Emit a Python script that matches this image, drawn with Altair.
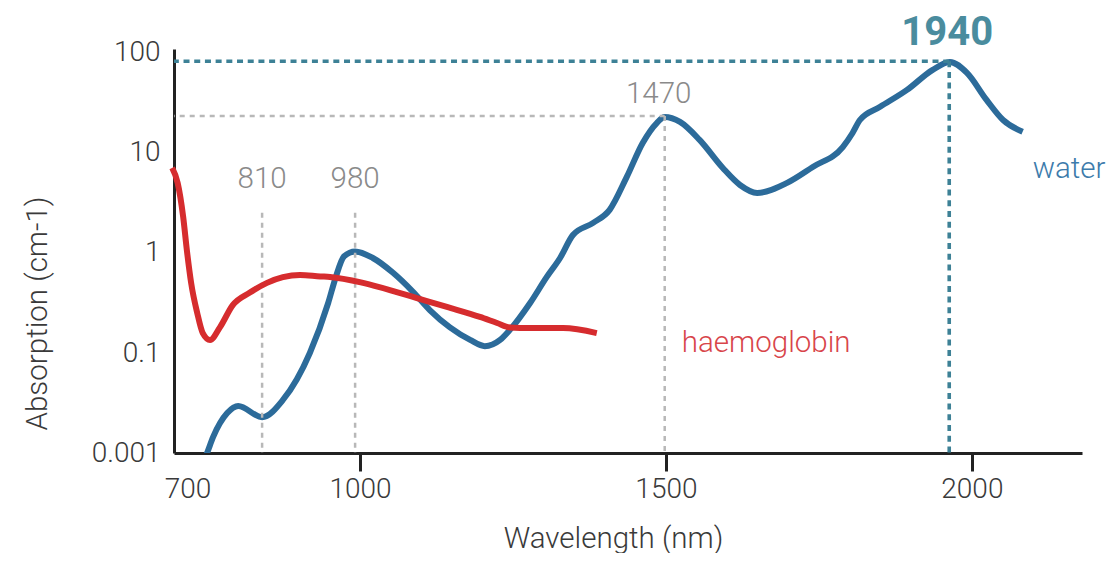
import altair as alt
import pandas as pd

# ---- data ----
water_nm = [738, 750, 760, 783, 801, 840, 874, 918, 948, 960, 974, 992, 1021, 1054, 1087,
            1114, 1147, 1180, 1204, 1229, 1245, 1278, 1305, 1327, 1348, 1381, 1408, 1436,
            1462, 1485, 1498, 1523, 1555, 1593, 1621, 1649, 1698, 1740, 1789, 1805, 1817,
            1850, 1894, 1936, 1964, 1992, 2024, 2051, 2083]
water_abs = [0.00046, 0.001, 0.0021, 0.0063, 0.0087, 0.0052, 0.0115, 0.1, 0.315, 0.56, 0.92,
             1.03, 0.885, 0.63, 0.405, 0.268, 0.18, 0.135, 0.117, 0.135, 0.17, 0.315, 0.57,
             0.885, 1.5, 1.98, 2.67, 5.69, 12.4, 19.6, 22.5, 20.1, 13.3, 6.98, 4.73, 3.94,
             4.96, 7.15, 11.3, 15.6, 21.0, 28.4, 41.9, 66.4, 79.6, 61.9, 33.3, 21.0, 16.0]

hb_nm = [693, 702, 711, 717, 724, 734, 743, 755, 771, 792, 820, 848, 874, 902, 935, 951,
         1005, 1060, 1093, 1142, 1196, 1224, 1245, 1278, 1332, 1387]
hb_abs = [7.0, 4.95, 2.27, 1.06, 0.50, 0.25, 0.158, 0.135, 0.18, 0.30, 0.40, 0.50, 0.57,
          0.60, 0.58, 0.573, 0.50, 0.405, 0.353, 0.288, 0.229, 0.199, 0.18, 0.177, 0.177,
          0.158]

ann_labels = ["810", "980", "1470", "1940"]
ann_nm = [840, 992, 1498, 1963]
ann_abs = [2.5, 2.5, 23, 81]

x_ticks = [700, 1000, 1500, 2000]
y_ticks = [0.001, 0.1, 1, 10, 100]

X_MIN, X_MAX = 696, 2180
Y_BOTTOM = 0.001

# ---- styles ----
FONT = "Roboto"
BLUE = "#2c6b9a"
RED = "#d62c2e"
TEAL = "#3d8196"
GREY_LINE = "#b8b8b8"
GREY_TEXT = "#8a8a8a"
AXIS = "#222222"
LABEL = "#3a3a3a"
TXT = 29.5

water_df = pd.DataFrame({"nm": water_nm, "abs": water_abs})
hb_df = pd.DataFrame({"nm": hb_nm, "abs": hb_abs})
ann_df = pd.DataFrame({"nm": ann_nm, "abs": ann_abs, "label": ann_labels})

x_scale = alt.Scale(domain=[X_MIN, X_MAX], nice=False, zero=False)
y_scale = alt.Scale(type="log", domain=[0.001, 0.1, 100, 108], range=[404, 304, 3, 0], nice=False)

x_axis = alt.Axis(
    values=x_ticks, format="d", grid=False,
    domainColor=AXIS, domainWidth=3,
    tickColor={"condition": {"test": "datum.value === 700", "value": "transparent"}, "value": AXIS},
    tickWidth=3, tickSize=18,
    labelFont=FONT, labelFontSize=28, labelFontWeight=300, labelColor=LABEL, labelPadding=4,
    labelOffset={"condition": {"test": "datum.value === 700", "value": 11}, "value": 0},
    labelFlush=False,
    titleFont=FONT, titleFontSize=TXT, titleFontWeight=300, titleColor=LABEL,
    titleX=439, titleY=94, titleAlign="center", titleBaseline="alphabetic",
)
y_axis = alt.Axis(
    values=y_ticks, format="~g", grid=False,
    domainColor=AXIS, domainWidth=3, ticks=False, tickSize=0,
    labelFont=FONT, labelFontSize=28, labelFontWeight=300, labelColor=LABEL, labelPadding=14,
    labelFlush=False,
    titleFont=FONT, titleFontSize=TXT, titleFontWeight=300, titleColor=LABEL,
    titleAngle=270, titleX=-128, titleY=264, titleAlign="center", titleBaseline="alphabetic",
)

X = alt.X("nm:Q", scale=x_scale, axis=x_axis, title="Wavelength (nm)")
Y = alt.Y("abs:Q", scale=y_scale, axis=y_axis, title="Absorption (cm-1)")

grey_ann = ann_df[ann_df["label"] != "1940"]
main_ann = ann_df[ann_df["label"] == "1940"]

grey_vrules = alt.Chart(grey_ann).mark_rule(color=GREY_LINE, strokeWidth=2.5, strokeDash=[5, 5]).encode(
    x="nm:Q", y="abs:Q", y2=alt.datum(Y_BOTTOM))
grey_hrule = alt.Chart(ann_df[ann_df["label"] == "1470"]).mark_rule(
    color=GREY_LINE, strokeWidth=2.5, strokeDash=[5, 5]).encode(
    x="nm:Q", x2=alt.datum(X_MIN), y="abs:Q")
teal_vrule = alt.Chart(main_ann).mark_rule(color=TEAL, strokeWidth=3.6, strokeDash=[6, 4.7]).encode(
    x="nm:Q", y="abs:Q", y2=alt.datum(Y_BOTTOM))
teal_hrule = alt.Chart(main_ann).mark_rule(color=TEAL, strokeWidth=3.6, strokeDash=[6, 4.7]).encode(
    x="nm:Q", x2=alt.datum(X_MIN), y="abs:Q")

water_line = alt.Chart(water_df).mark_line(
    interpolate="monotone", color=BLUE, strokeWidth=6, clip=True).encode(x=X, y=Y)
hb_line = alt.Chart(hb_df).mark_line(
    interpolate="monotone", color=RED, strokeWidth=6).encode(x="nm:Q", y="abs:Q")

txt_small = alt.Chart(ann_df[ann_df["label"].isin(["810", "980"])]).mark_text(
    font=FONT, fontSize=TXT, fontWeight=300, color=GREY_TEXT, align="center",
    baseline="alphabetic", dy=-25).encode(x="nm:Q", y="abs:Q", text="label:N")
txt_1470 = alt.Chart(ann_df[ann_df["label"] == "1470"]).mark_text(
    font=FONT, fontSize=TXT, fontWeight=300, color=GREY_TEXT, align="center",
    baseline="alphabetic", dx=-6, dy=-13).encode(x="nm:Q", y="abs:Q", text="label:N")
txt_1940 = alt.Chart(main_ann).mark_text(
    font=FONT, fontSize=40, fontWeight=700, color="#4a8c9e", align="center",
    baseline="alphabetic", dx=-2, dy=-16).encode(x="nm:Q", y="abs:Q", text="label:N")

water_lbl = alt.Chart(pd.DataFrame({"nm": [water_nm[-1]], "abs": [water_abs[-1]], "label": ["water"]})).mark_text(
    font=FONT, fontSize=TXT, fontWeight=300, color="#3d7bab", align="left",
    baseline="alphabetic", dx=10, dy=46).encode(x="nm:Q", y="abs:Q", text="label:N")
hb_lbl = alt.Chart(pd.DataFrame({"nm": [hb_nm[-1]], "abs": [hb_abs[-1]], "label": ["haemoglobin"]})).mark_text(
    font=FONT, fontSize=TXT, fontWeight=300, color="#d8454a", align="left",
    baseline="alphabetic", dx=85, dy=19).encode(x="nm:Q", y="abs:Q", text="label:N")

chart = alt.layer(
    water_line, grey_vrules, grey_hrule, teal_vrule, teal_hrule, hb_line,
    txt_small, txt_1470, txt_1940, water_lbl, hb_lbl,
).properties(
    width=908, height=404,
    autosize=alt.AutoSizeParams(type="none"),
    padding={"left": 166, "top": 41, "right": 30, "bottom": 100},
    background="white",
).configure_view(stroke=None)

chart.save("out.html", embed_options={"renderer": "svg", "actions": False})
